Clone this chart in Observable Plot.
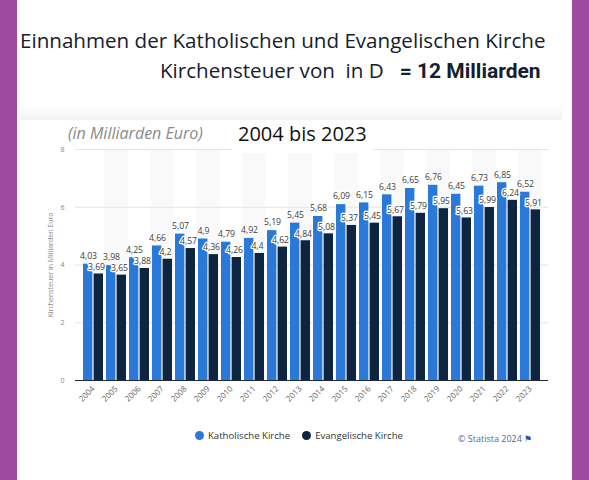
<!DOCTYPE html>
<html>
<head>
<meta charset="utf-8">
<script src="https://cdn.jsdelivr.net/npm/d3@7"></script>
<script src="https://cdn.jsdelivr.net/npm/@observablehq/plot@0.6"></script>
<style>
  html, body { margin: 0; padding: 0; }
  #page { position: relative; width: 589px; height: 480px; background: #9c4ba0; overflow: hidden; font-family: "Open Sans", sans-serif; }
  #inner { position: absolute; left: 17px; top: 0; width: 555px; height: 480px; background: #fff; }
  #panelShade { position: absolute; left: 20px; top: 104px; width: 542px; height: 16px; background: linear-gradient(#ffffff, #f3f3f3); }
  .abs { position: absolute; white-space: nowrap; }
  #t1 { left: 20px; top: 26px; font-size: 20.6px; color: #15202e; }
  #t2 { left: 160px; top: 56px; font-size: 20.6px; color: #15202e; }
  #t2 b { font-family: Roboto, sans-serif; font-weight: 700; font-size: 21px; }
  #sub1 { left: 68px; top: 122px; font-size: 16px; font-style: italic; color: #8a8a8a; }
  #sub2 { left: 232px; top: 121px; font-size: 20px; color: #111; background: #fff; padding: 0 6px 6px 6px; line-height: 26px; }
  #chart { position: absolute; left: 0; top: 140px; }
  #legend { left: 195px; top: 429px; font-size: 9.6px; color: #333; font-weight: 500; }
  #legend span.dot { display: inline-block; width: 9px; height: 9px; border-radius: 50%; vertical-align: -1px; margin-right: 4px; }
  #credit { left: 458px; top: 432px; font-size: 9px; color: #4a6a9a; }
</style>
</head>
<body>
<div id="page">
  <div id="inner"></div>
  <div id="panelShade"></div>
  <div class="abs" id="t1">Einnahmen der Katholischen und Evangelischen Kirche</div>
  <div class="abs" id="t2">Kirchensteuer von&nbsp; in D &nbsp;&nbsp;<b>= 12 Milliarden</b></div>
  <div id="chart"></div>
  <div class="abs" id="sub1">(in Milliarden Euro)</div>
  <div class="abs" id="sub2">2004 bis 2023</div>
  <div class="abs" id="legend"></div>
  <div class="abs" id="credit">© Statista 2024 <span style="color:#1f4fb0">⚑</span></div>
</div>
<script>
const years = ["2004","2005","2006","2007","2008","2009","2010","2011","2012","2013","2014","2015","2016","2017","2018","2019","2020","2021","2022","2023"];
const katholisch = [4.03,3.98,4.25,4.66,5.07,4.9,4.79,4.92,5.19,5.45,5.68,6.09,6.15,6.43,6.65,6.76,6.45,6.73,6.85,6.52];
const evangelisch = [3.69,3.65,3.88,4.2,4.57,4.36,4.26,4.4,4.62,4.84,5.08,5.37,5.45,5.67,5.79,5.95,5.63,5.99,6.24,5.91];
const yTicks = [0, 2, 4, 6, 8];
const seriesNames = ["Katholische Kirche", "Evangelische Kirche"];
const colors = ["#2a78d8", "#0e2540"];

const kathData = years.map((y, i) => ({year: y, value: katholisch[i]}));
const evData = years.map((y, i) => ({year: y, value: evangelisch[i]}));
const oddYears = years.filter((y, i) => i % 2 === 1);
const fmt = v => String(v).replace(".", ",");

const plot = Plot.plot({
  width: 589,
  height: 280,
  marginTop: 9,
  marginBottom: 40,
  marginLeft: 75,
  marginRight: 41,
  style: {fontFamily: "'Open Sans', sans-serif", background: "transparent", overflow: "visible"},
  x: {domain: years, paddingInner: 0.15, paddingOuter: 0.075, label: null},
  y: {domain: [0, 8], label: null},
  marks: [
    Plot.barY(oddYears, {x: d => d, y1: 0, y2: 8, fill: "#f9f9f9", insetLeft: -1.7, insetRight: -1.7}),
    Plot.gridY(yTicks.filter(t => t > 0), {stroke: "#e4e4e4", strokeOpacity: 1}),
    Plot.axisY({ticks: yTicks, tickSize: 0, tickPadding: 11, fontSize: 7, fill: "#888",
      label: "Kirchensteuer in Milliarden Euro", labelAnchor: "center", labelOffset: 27, labelArrow: "none"}),
    Plot.axisX({tickSize: 0, tickPadding: 7, tickRotate: -45, fontSize: 8, fill: "#666", label: null}),
    Plot.barY(kathData, {x: "year", y: "value", fill: colors[0], insetRight: 10.6}),
    Plot.barY(evData, {x: "year", y: "value", fill: colors[1], insetLeft: 10.6}),
    Plot.ruleY([0], {stroke: "#1c2a3c", strokeWidth: 1}),
    Plot.text(kathData, {x: "year", y: "value", text: d => fmt(d.value), dx: -5, dy: -8,
      fontSize: 8.7, fill: "#3a3a3a", stroke: "white", strokeWidth: 2.5, fontWeight: 500}),
    Plot.text(evData, {x: "year", y: "value", text: d => fmt(d.value), dx: 3, dy: -7,
      fontSize: 8.7, fill: "#3a3a3a", stroke: "white", strokeWidth: 2.5, fontWeight: 500})
  ]
});
document.getElementById("chart").appendChild(plot);

const legend = document.getElementById("legend");
legend.innerHTML = seriesNames.map((n, i) =>
  `<span class="dot" style="background:${colors[i]}"></span><span style="margin-right:12px">${n}</span>`).join("");
</script>
</body>
</html>
